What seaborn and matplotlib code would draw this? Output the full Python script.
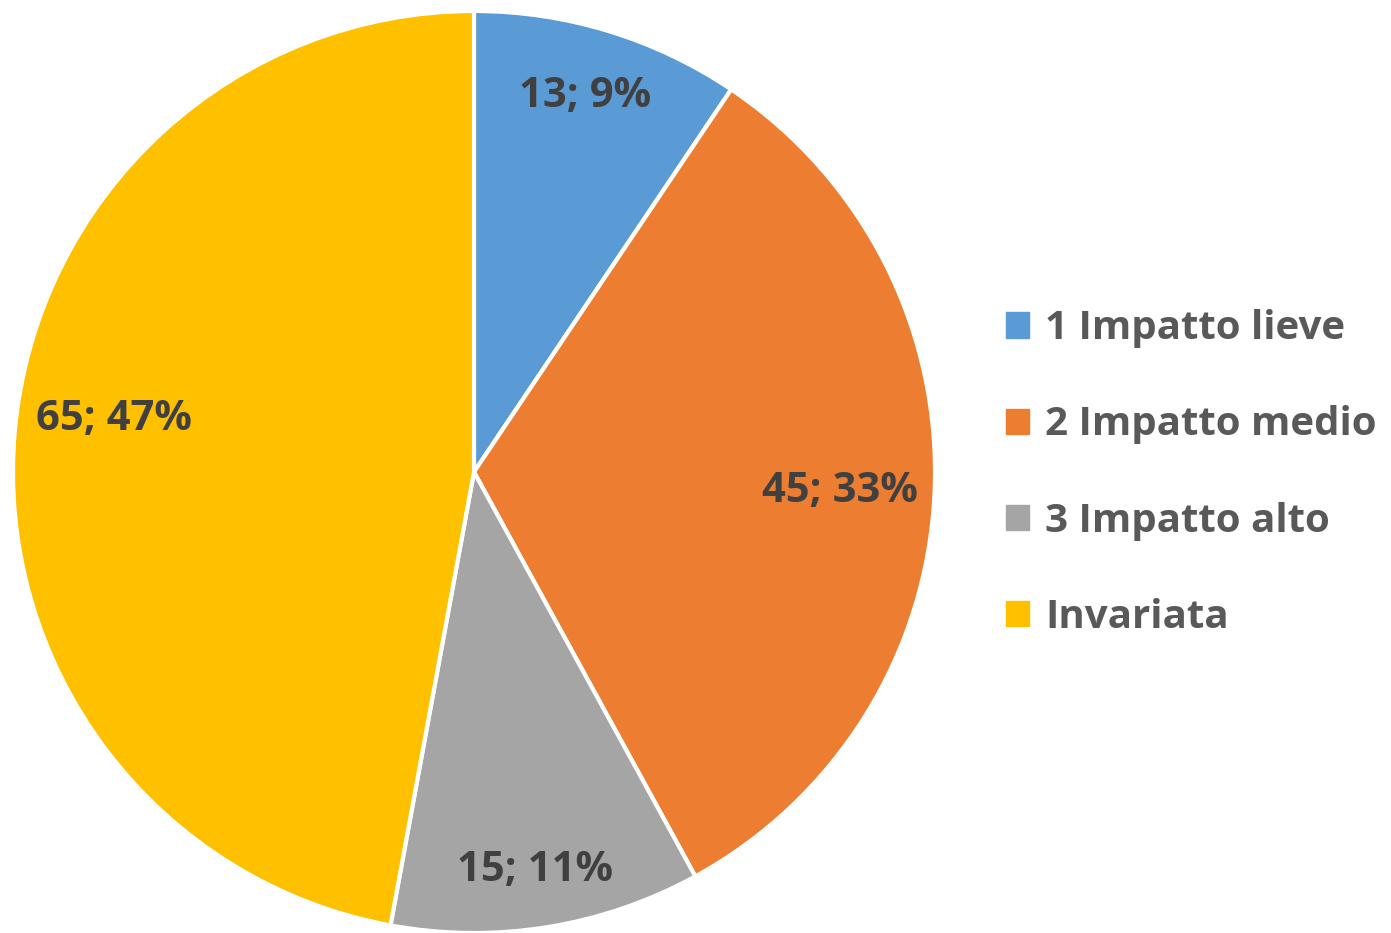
import matplotlib
matplotlib.use("Agg")
import matplotlib.pyplot as plt
import matplotlib.patches as mpatches
import numpy as np
import seaborn as sns

categories = ["1 Impatto lieve", "2 Impatto medio", "3 Impatto alto", "Invariata"]
values = [13, 45, 15, 65]
percent_labels = ["9%", "33%", "11%", "47%"]
colors = sns.color_palette(["#5B9BD5", "#ED7D31", "#A5A5A5", "#FFC000"])

sns.set_theme(style="white")
plt.rcParams['font.family'] = ['Open Sans', 'DejaVu Sans']

fig = plt.figure(figsize=(13.91, 9.33), dpi=100)
ax = fig.add_axes([13/1391, 0.0, 922/1391, 922/933])
wedges, _ = ax.pie(values, colors=colors, startangle=90, counterclock=False,
                   radius=1.0, wedgeprops=dict(edgecolor="white", linewidth=3))
ax.set_xlim(-1, 1)
ax.set_ylim(-1, 1)
ax.set_aspect("equal")

# label placement (fraction of radius, angular nudge in degrees), like Excel's "best fit"
label_dist = [0.85, 0.795, 0.875, 0.79]
label_nudge = [0.5, -0.5, -0.4, -3.0]
for w, v, p, d, n in zip(wedges, values, percent_labels, label_dist, label_nudge):
    ang = np.deg2rad((w.theta1 + w.theta2) / 2 + n)
    ax.text(d * np.cos(ang), d * np.sin(ang), f"{v}; {p}", ha="center", va="center",
            fontsize=30, fontweight="bold", color="#404040")

handles = [mpatches.Patch(color=c) for c in colors]
leg = fig.legend(handles, categories, loc="center left",
                 bbox_to_anchor=(1006/1391, 1 - 473/933),
                 frameon=False, fontsize=29, labelcolor="#595959", handlelength=0.58,
                 handleheight=0.58, handletextpad=0.4, labelspacing=1.42,
                 borderpad=0, borderaxespad=0)
for t in leg.get_texts():
    t.set_fontweight("bold")

fig.savefig("out.png", dpi=100)
